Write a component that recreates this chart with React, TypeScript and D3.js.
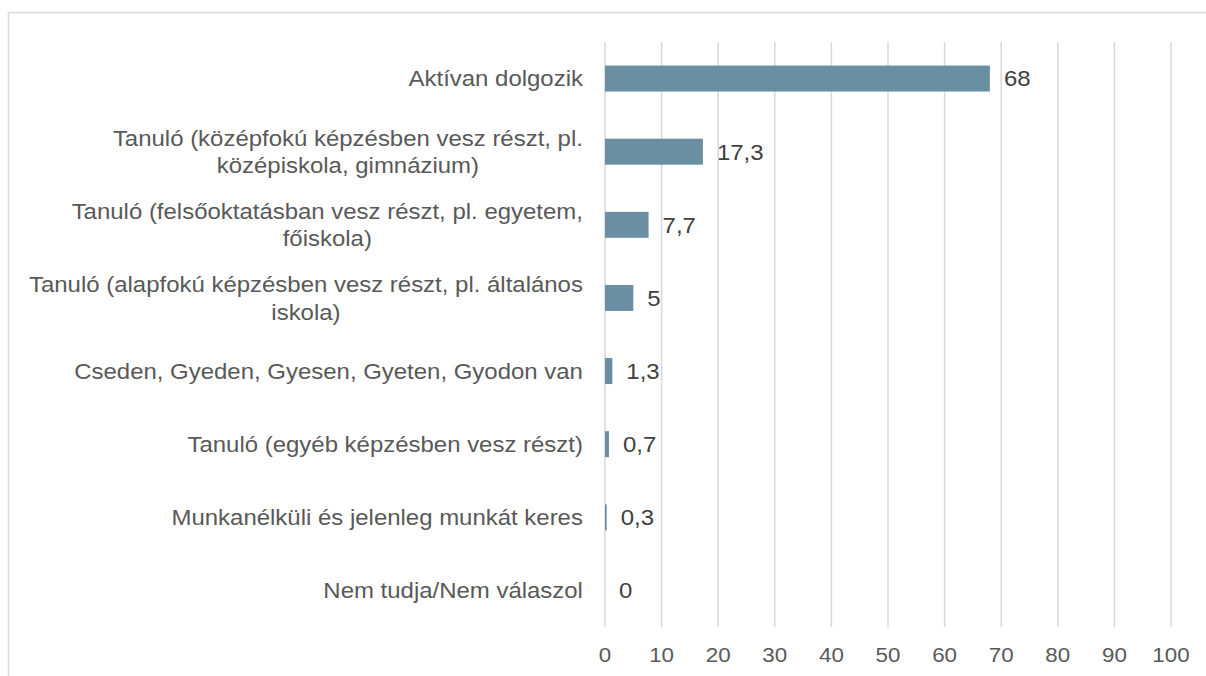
import React, { useEffect, useRef } from "react";
import * as d3 from "d3";

const categories: string[][] = [
  ["Aktívan dolgozik"],
  ["Tanuló (középfokú képzésben vesz részt, pl.", "középiskola, gimnázium)"],
  ["Tanuló (felsőoktatásban vesz részt, pl. egyetem,", "főiskola)"],
  ["Tanuló (alapfokú képzésben vesz részt, pl. általános", "iskola)"],
  ["Cseden, Gyeden, Gyesen, Gyeten, Gyodon van"],
  ["Tanuló (egyéb képzésben vesz részt)"],
  ["Munkanélküli és jelenleg munkát keres"],
  ["Nem tudja/Nem válaszol"],
];
const values: number[] = [68, 17.3, 7.7, 5, 1.3, 0.7, 0.3, 0];
const ticks: number[] = [0, 10, 20, 30, 40, 50, 60, 70, 80, 90, 100];

const W = 1206;
const H = 676;
const FONT = "'Liberation Sans', Arial, sans-serif";
const TEXT = "#595959";
const SX = 1.065;
const FS = 22.5;

export default function App() {
  const ref = useRef<SVGSVGElement>(null);
  useEffect(() => {
    const svg = d3.select(ref.current);
    svg.selectAll("*").remove();
    const x = d3.scaleLinear().domain([0, 100]).range([605, 1171]);
    const y = d3
      .scaleBand<number>()
      .domain(values.map((_, i) => i))
      .range([42, 627])
      .paddingInner(0.645)
      .paddingOuter(0.3225);

    // border
    svg
      .append("rect")
      .attr("x", 8.5)
      .attr("y", 12.5)
      .attr("width", W + 20)
      .attr("height", H + 20)
      .attr("fill", "#fff")
      .attr("stroke", "#d9d9d9")
      .attr("stroke-width", 1.5);

    // gridlines
    svg
      .append("g")
      .selectAll("line")
      .data(ticks)
      .join("line")
      .attr("x1", (d) => x(d))
      .attr("x2", (d) => x(d))
      .attr("y1", 42)
      .attr("y2", 627)
      .attr("stroke", "#d9d9d9")
      .attr("stroke-width", 1.5);

    // tick labels
    svg
      .append("g")
      .selectAll("text")
      .data(ticks)
      .join("text")
      .attr("transform", (d) => `translate(${x(d)},662) scale(${SX},1)`)
      .attr("text-anchor", "middle")
      .attr("font-family", FONT)
      .attr("font-size", 21)
      .attr("fill", TEXT)
      .text((d) => String(d));

    // bars
    svg
      .append("g")
      .selectAll("rect")
      .data(values)
      .join("rect")
      .attr("x", x(0))
      .attr("y", (_, i) => y(i)!)
      .attr("width", (d) => x(d) - x(0))
      .attr("height", y.bandwidth())
      .attr("fill", "#6a8fa3");

    // value labels
    svg
      .append("g")
      .selectAll("text")
      .data(values)
      .join("text")
      .attr("transform", (d, i) => `translate(${x(d) + 14},${y(i)! + y.bandwidth() / 2}) scale(${SX},1)`)
      .attr("dy", "0.35em")
      .attr("font-family", FONT)
      .attr("font-size", FS)
      .attr("fill", "#404040")
      .text((d) => String(d).replace(".", ","));

    // category labels
    const lh = 27.5;
    categories.forEach((lines, i) => {
      const cy = y(i)! + y.bandwidth() / 2;
      const g = svg.append("g");
      const texts = lines.map((line) =>
        g
          .append("text")
          .attr("dy", "0.35em")
          .attr("font-family", FONT)
          .attr("font-size", FS)
          .attr("fill", TEXT)
          .attr("text-anchor", "middle")
          .text(line)
      );
      const maxW = d3.max(texts, (t) => (t.node() as SVGTextElement).getComputedTextLength()) || 0;
      const cx = 583 - (maxW * SX) / 2;
      texts.forEach((t, k) =>
        t.attr(
          "transform",
          `translate(${cx},${cy + (k - (lines.length - 1) / 2) * lh}) scale(${SX},1)`
        )
      );
    });
  }, []);
  return <svg ref={ref} width={W} height={H} style={{ display: "block", position: "absolute", left: 0, top: 0 }} />;
}
